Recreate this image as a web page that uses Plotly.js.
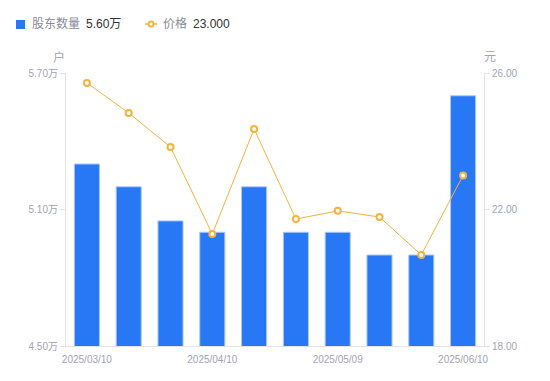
<!DOCTYPE html>
<html><head><meta charset="utf-8">
<script src="https://cdn.plot.ly/plotly-3.0.1.min.js"></script>
<style>html,body{margin:0;padding:0;background:#fff}#c{width:550px;height:381px}</style>
</head><body><div id="c"></div>
<script>
const dates = ['2025/03/10','2025/03/20','2025/03/31','2025/04/10','2025/04/18','2025/04/30','2025/05/09','2025/05/20','2025/05/30','2025/06/10'];
const holders = [5.30,5.20,5.05,5.00,5.20,5.00,5.00,4.90,4.90,5.60];
const prices = [25.71,24.83,23.83,21.28,24.36,21.72,21.96,21.78,20.67,23.00];
const xTicks = ['2025/03/10','2025/04/10','2025/05/09','2025/06/10'];
const leftTicks = [4.50,5.10,5.70];
const rightTicks = [18,22,26];
const seriesNames = ['股东数量','价格'];

const blue = '#2878F5', orange = '#F7B23B', grey = '#A3A3B3';
const font = 'Liberation Sans, Noto Sans CJK SC, sans-serif';
const last = holders.length-1;

// pixel -> paper helpers (plot area: x 66..484, y 73..346)
const L=66, R=484, T=73, B=346;
const px = v => (v-L)/(R-L);
const py = v => (B-v)/(B-T);

const traces = [
 {type:'bar', x:dates, y:holders, name:seriesNames[0],
  marker:{color:blue, line:{color:'#a9c8fa', width:1}}, yaxis:'y', hoverinfo:'none'},
 {type:'scatter', mode:'lines+markers', x:dates, y:prices, name:seriesNames[1],
  line:{color:orange, width:1}, marker:{symbol:'circle', size:6, color:'#fff', line:{color:orange, width:2}}, yaxis:'y2', hoverinfo:'none'}
];
const ann = (x,y,text,color,anchor,size) => ({xref:'paper', yref:'paper', x:px(x), y:py(y), text, showarrow:false,
  font:{size:size||12, color}, xanchor:anchor||'left', yanchor:'middle'});
const layout = {
 width:550, height:381, margin:{l:L, r:550-R, t:T, b:381-B},
 paper_bgcolor:'#fff', plot_bgcolor:'#fff',
 font:{family:font, size:10, color:grey},
 bargap:0.4, showlegend:false,
 xaxis:{type:'category', tickmode:'array', tickvals:xTicks, ticktext:xTicks, showgrid:false, zeroline:false,
   showline:true, linecolor:'#e3e3e8', ticks:'', ticklabelstandoff:4, tickfont:{size:10, color:grey}, range:[-0.5,9.5]},
 yaxis:{range:[4.5,5.7], tickvals:leftTicks, ticktext:leftTicks.map(v=>v.toFixed(2)+'万'), showgrid:false, zeroline:false,
   showline:true, linecolor:'#e3e3e8', ticks:'outside', ticklen:5, tickcolor:'#e3e3e8', tickfont:{size:10, color:grey}},
 yaxis2:{overlaying:'y', side:'right', range:[18,26], tickvals:rightTicks, ticktext:rightTicks.map(v=>v.toFixed(2)), showgrid:false, zeroline:false,
   showline:true, linecolor:'#e3e3e8', ticks:'outside', ticklen:5, tickcolor:'#e3e3e8', tickfont:{size:10, color:grey}},
 shapes:[
  {type:'rect', xref:'paper', yref:'paper', x0:px(16), x1:px(25), y0:py(20), y1:py(29), fillcolor:blue, line:{width:0}, layer:'above'},
  {type:'line', xref:'paper', yref:'paper', x0:px(145), x1:px(157), y0:py(24), y1:py(24), line:{color:orange, width:1.5}},
  {type:'circle', xref:'paper', yref:'paper', x0:px(148.5), x1:px(153.5), y0:py(21.5), y1:py(26.5), fillcolor:'#fff', line:{color:orange, width:2}}
 ],
 annotations:[
  {xref:'paper', yref:'paper', x:0, y:1, xshift:-7, yshift:16, text:'户', showarrow:false, font:{size:12, color:grey}, xanchor:'center', yanchor:'middle'},
  {xref:'paper', yref:'paper', x:1, y:1, xshift:6, yshift:16, text:'元', showarrow:false, font:{size:12, color:grey}, xanchor:'center', yanchor:'middle'},
  ann(30, 24, seriesNames[0], '#8a8a99'),
  ann(84, 24, holders[last].toFixed(2)+'万', '#333'),
  ann(161, 24, seriesNames[1], '#8a8a99'),
  ann(191, 24, prices[last].toFixed(3), '#333')
 ]
};
Plotly.newPlot('c', traces, layout, {displayModeBar:false, staticPlot:true});
</script></body></html>
